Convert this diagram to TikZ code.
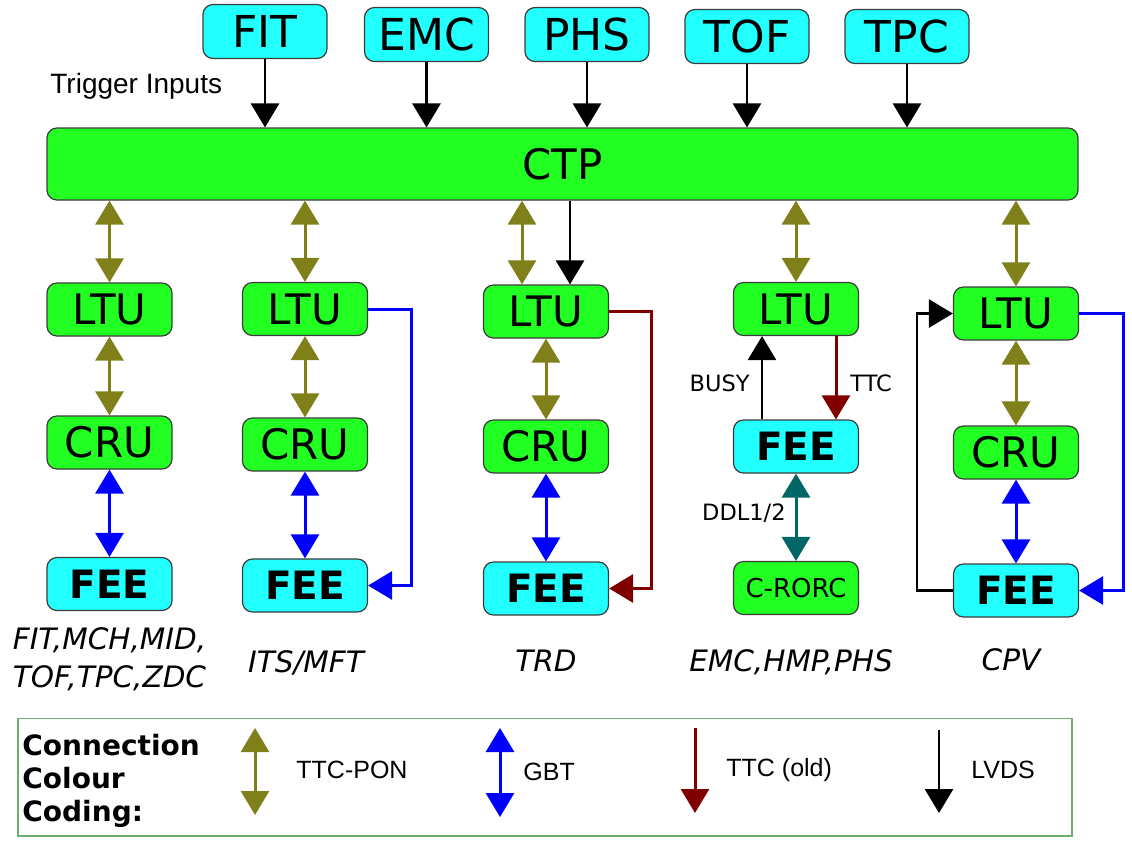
\documentclass[tikz,border=0pt]{standalone}
\usepackage{fontspec}
\setmainfont{DejaVu Sans}
\newfontfamily\arialfont{Liberation Sans}
\usepackage{xcolor}
\usepackage{tikz}
\usetikzlibrary{arrows.meta}
\definecolor{boxgreen}{RGB}{34, 255, 34}
\definecolor{boxcyan}{RGB}{34, 255, 255}
\definecolor{edgegray}{RGB}{60, 60, 60}
\definecolor{ponolive}{RGB}{128, 128, 26}
\definecolor{gbtblue}{RGB}{0, 0, 255}
\definecolor{ttcred}{RGB}{128, 0, 0}
\definecolor{ddlteal}{RGB}{0, 102, 102}
\definecolor{legendgreen}{RGB}{110, 175, 110}

\begin{document}
\begin{tikzpicture}[x=5pt, y=-5pt,
  >={Triangle[width=14pt, length=12pt]},
  unit/.style={draw=edgegray, line width=0.6pt, rounded corners=5pt, minimum width=62.5pt, minimum height=26.5pt, inner sep=0pt, font=\fontsize{21}{24}\selectfont},
  greenunit/.style={unit, fill=boxgreen},
  feeunit/.style={unit, fill=boxcyan, font=\fontsize{19.5}{24}\selectfont\bfseries},
  detector/.style={unit, fill=boxcyan, minimum width=62pt, minimum height=27pt, font=\fontsize{22}{24}\selectfont},
  ponlink/.style={ponolive, line width=1.5pt, <->},
  gbtlink/.style={gbtblue, line width=1.5pt},
  ttclink/.style={ttcred, line width=1.5pt},
  lvdslink/.style={black, line width=1.4pt},
  system/.style={font=\fontsize{14.75}{19}\selectfont\itshape, align=center},
  tag/.style={font=\fontsize{11.25}{13}\selectfont, inner sep=0pt},
  legendtext/.style={font=\arialfont\fontsize{12.5}{14}\selectfont, anchor=west, inner sep=0pt}
]
\useasboundingbox (0,0) rectangle (113.2,84.8);

% Trigger inputs
\node[detector] (fit) at (26.5,3.15) {FIT};
\node[detector] (emc) at (42.65,3.45) {EMC};
\node[detector] (phs) at (58.7,3.45) {PHS};
\node[detector] (tof) at (74.7,3.65) {TOF};
\node[detector] (tpc) at (90.7,3.65) {TPC};
\node[anchor=west, inner sep=0pt, font=\arialfont\fontsize{14}{16}\selectfont] (trig) at (5.0,8.6) {Trigger Inputs};

% CTP
\node[greenunit, minimum width=515.5pt, minimum height=36pt] (ctp) at (56.25,16.4) {CTP};
\foreach \d in {fit,emc,phs,tof,tpc}
  \draw[lvdslink, ->] (\d.south) -- (\d.south |- ctp.north);

% Column 1
\node[greenunit] (ltuA) at (10.95,30.95) {LTU};
\node[greenunit] (cruA) at (10.95,44.25) {CRU};
\node[feeunit] (feeA) at (10.95,58.4) {FEE};
\draw[ponlink] (ltuA.north |- ctp.south) -- (ltuA.north);
\draw[ponlink] (ltuA.south) -- (cruA.north);
\draw[gbtlink, <->] (cruA.south) -- (feeA.north);
\node[system] (sysA) at (10.95,65.9) {FIT,MCH,MID,\\TOF,TPC,ZDC};

% Column 2
\node[greenunit] (ltuB) at (30.5,30.9) {LTU};
\node[greenunit] (cruB) at (30.5,44.45) {CRU};
\node[feeunit] (feeB) at (30.5,58.55) {FEE};
\draw[ponlink] (ltuB.north |- ctp.south) -- (ltuB.north);
\draw[ponlink] (ltuB.south) -- (cruB.north);
\draw[gbtlink, <->] (cruB.south) -- (feeB.north);
\draw[gbtlink, ->] (ltuB.east) -- ++(4.3,0) |- (feeB.east);
\node[system] (sysB) at (30.6,66.3) {ITS/MFT};

% Column 3
\node[greenunit] (ltuC) at (54.6,31.15) {LTU};
\node[greenunit] (cruC) at (54.6,44.65) {CRU};
\node[feeunit] (feeC) at (54.6,58.85) {FEE};
\draw[ponlink] ([xshift=-12pt]ltuC.north |- ctp.south) -- ([xshift=-12pt]ltuC.north);
\draw[lvdslink, ->] ([xshift=12pt]ltuC.north |- ctp.south) -- ([xshift=12pt]ltuC.north);
\draw[ponlink] (ltuC.south) -- (cruC.north);
\draw[gbtlink, <->] (cruC.south) -- (feeC.north);
\draw[ttclink, ->] (ltuC.east) -- ++(4.2,0) |- (feeC.east);
\node[system] (sysC) at (54.6,66.1) {TRD};

% Column 4
\node[greenunit] (ltuD) at (79.6,30.9) {LTU};
\node[feeunit] (feeD) at (79.6,44.65) {FEE};
\node[greenunit, font=\fontsize{13}{15}\selectfont] (rorc) at (79.6,58.8) {C-RORC};
\draw[ponlink] (ltuD.north |- ctp.south) -- (ltuD.north);
\draw[lvdslink, ->] ([xshift=-17pt]feeD.north) -- ([xshift=-17pt]ltuD.south);
\draw[ttclink, ->] ([xshift=20pt]ltuD.south) -- ([xshift=20pt]feeD.north);
\draw[ddlteal, line width=1.5pt, <->] (feeD.south) -- (rorc.north);
\node[tag, anchor=east] (busy) at (75.0,38.3) {BUSY};
\node[tag, anchor=west] (ttc) at (85.0,38.3) {TTC};
\node[tag, anchor=east] (ddl) at (78.6,51.3) {DDL1/2};
\node[system] (sysD) at (79.1,66.2) {EMC,HMP,PHS};

% Column 5
\node[greenunit] (ltuE) at (101.6,31.35) {LTU};
\node[greenunit] (cruE) at (101.6,45.25) {CRU};
\node[feeunit] (feeE) at (101.6,59.05) {FEE};
\draw[ponlink] (ltuE.north |- ctp.south) -- (ltuE.north);
\draw[ponlink] (ltuE.south) -- (cruE.north);
\draw[gbtlink, <->] (cruE.south) -- (feeE.north);
\draw[gbtlink, ->] (ltuE.east) -- ++(4.4,0) |- (feeE.east);
\draw[lvdslink, ->] (feeE.west) -- ++(-3.6,0) |- (ltuE.west);
\node[system] (sysE) at (101.1,66.0) {CPV};

% Legend
\draw[legendgreen, line width=0.8pt] (1.8,71.85) rectangle (107.2,83.6);
\node[anchor=west, align=left, inner sep=0pt, font=\fontsize{14}{16.5}\selectfont\bfseries] (key) at (2.2,78.1) {Connection\\Colour\\Coding:};
\coordinate (ponTop) at (25.5,72.8);
\coordinate (ponBot) at (25.5,81.5);
\coordinate (gbtTop) at (50.0,72.8);
\coordinate (gbtBot) at (50.0,81.7);
\coordinate (ttcTop) at (69.5,72.8);
\coordinate (ttcBot) at (69.5,81.3);
\coordinate (lvdsTop) at (93.9,73.0);
\coordinate (lvdsBot) at (93.9,81.3);
\draw[ponlink] (ponTop) -- (ponBot);
\draw[gbtlink, <->] (gbtTop) -- (gbtBot);
\draw[ttclink, ->] (ttcTop) -- (ttcBot);
\draw[lvdslink, ->] (lvdsTop) -- (lvdsBot);
\node[legendtext] (ponLab) at (29.6,77.0) {TTC-PON};
\node[legendtext] (gbtLab) at (52.3,77.2) {GBT};
\node[legendtext] (ttcLab) at (72.6,77.0) {TTC (old)};
\node[legendtext] (lvdsLab) at (97.1,77.0) {LVDS};
\end{tikzpicture}
\end{document}
